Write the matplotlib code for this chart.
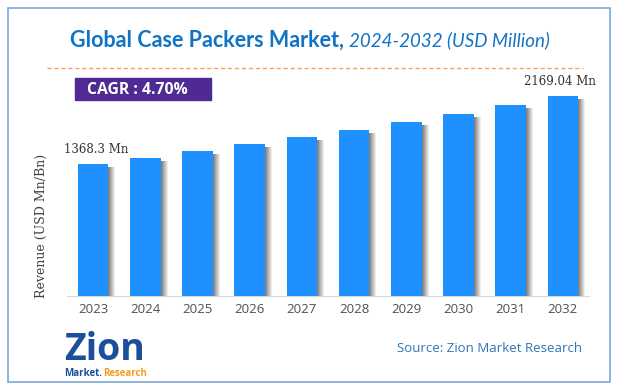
import matplotlib.pyplot as plt
from matplotlib.patches import Rectangle

years = ['2023', '2024', '2025', '2026', '2027', '2028', '2029', '2030', '2031', '2032']
revenue = [1368.3, 1435, 1521, 1603, 1685, 1767, 1861, 1958, 2064, 2169.04]
first_label = '1368.3 Mn'
last_label = '2169.04 Mn'
cagr = 'CAGR : 4.70%'

W, H = 618, 391
fig = plt.figure(figsize=(W / 100, H / 100), dpi=100)
fig.patch.set_facecolor('white')

def fx(x):
    return x / W

def fy(y):
    return 1 - y / H

# outer frame
fig.patches.append(Rectangle((fx(8), fy(382)), fx(602), (382 - 8) / H,
                             transform=fig.transFigure, fill=False,
                             edgecolor='#7BA7D7', lw=1.2))

# title
t1 = fig.text(fx(70), fy(40), 'Global Case Packers Market,', fontsize=15.5,
              fontweight='bold', color='#1173C4', family='Lato', va='center')
fig.canvas.draw()
bb = t1.get_window_extent()
fig.text(bb.x1 / W + 0.008, fy(40), '2024-2032 (USD Million)', fontsize=13.5,
         style='italic', color='#1173C4', family='Lato', va='center')

# dashed separator
fig.add_artist(plt.Line2D([fx(47), fx(583)], [fy(68), fy(68)], transform=fig.transFigure,
                          color='#F4A460', lw=1, ls=(0, (3, 2))))

# CAGR box
fig.patches.append(Rectangle((fx(75), fy(100)), (211 - 75) / W, 22 / H,
                             transform=fig.transFigure, color='#4E2A92'))
fig.text(fx(87), fy(89.5), cagr, fontsize=11.3, fontweight='bold', color='white',
         family='Open Sans', va='center')

# chart
base = -180
ax = fig.add_axes([fx(67), fy(296), (589 - 67) / W, (296 - 90) / H])
x = list(range(len(years)))
heights = [v - base for v in revenue]
bw = 0.584
px = 1 / 52.2
# shadows
for i in range(7):
    a = 0.75 * (1 - i / 7)
    ax.bar([xi + bw / 2 + i * px + px / 2 for xi in x], [h - 3 * 11.7 for h in heights],
           width=px * 1.05, bottom=base, color='#555555', alpha=a, lw=0)
ax.bar(x, heights, width=bw, bottom=base, color='#1E90FF', lw=0, zorder=3)
ax.set_xlim(-0.5, len(years) - 0.5)
ax.set_ylim(base, base + 206 / 0.0853)
for s in ['top', 'right', 'left']:
    ax.spines[s].set_visible(False)
ax.spines['bottom'].set_color('#D9D9D9')
ax.set_yticks([])
ax.set_xticks(x)
ax.set_xticklabels(years, fontsize=9.5, color='#505050', family='Open Sans')
ax.tick_params(axis='x', length=0, pad=5)
ax.text(x[0] + 0.05, revenue[0] + 90, first_label, ha='center', va='bottom',
        fontsize=8.5, family='DejaVu Serif', color='#333333')
ax.text(x[-1] - 0.05, revenue[-1] + 90, last_label, ha='center', va='bottom',
        fontsize=8.5, family='DejaVu Serif', color='#333333')

fig.text(fx(41), fy(226), 'Revenue (USD Mn/Bn)', rotation=90, ha='center', va='center',
         fontsize=9, family='DejaVu Serif', color='#404040')

# logo
fig.text(fx(64), fy(350), 'Zion', fontsize=27, fontweight='bold', color='#1B4F9C',
         family='Open Sans', va='center')
m = fig.text(fx(64), fy(373), 'Market.', fontsize=7, fontweight='bold', color='#1B4F9C',
             family='Open Sans', va='center')
fig.canvas.draw()
mb = m.get_window_extent()
fig.text(mb.x1 / W + 0.002, fy(373), 'Research', fontsize=7, fontweight='bold',
         color='#F39C1F', family='Open Sans', va='center')

fig.text(fx(582), fy(348), 'Source: Zion Market Research', fontsize=9.5, ha='right',
         color='#2E75B6', family='Open Sans', va='center')

fig.savefig('out.png', dpi=100)
